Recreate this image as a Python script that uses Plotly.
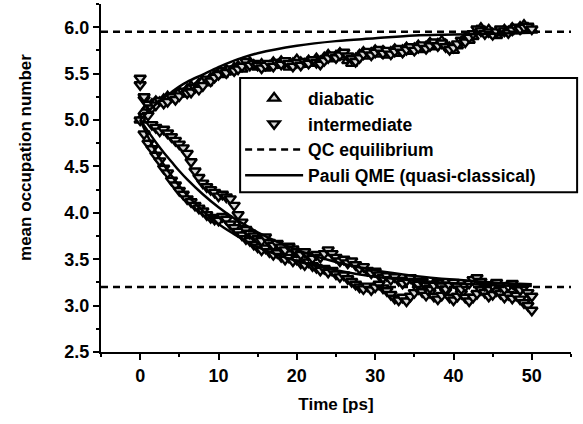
import plotly.graph_objects as go

# ---------------- data ----------------
time_ps = [i * 0.5 for i in range(101)]  # 0 ... 50 ps

diabatic_upper = [
    5.00, 5.09, 5.14, 5.17, 5.20, 5.19, 5.22, 5.25, 5.23, 5.27,
    5.30, 5.28, 5.33, 5.36, 5.34, 5.39, 5.42, 5.40, 5.45, 5.48,
    5.51, 5.49, 5.54, 5.52, 5.56, 5.58, 5.55, 5.60, 5.62, 5.59,
    5.57, 5.60, 5.56, 5.58, 5.62, 5.59, 5.63, 5.60, 5.57, 5.61,
    5.65, 5.62, 5.60, 5.64, 5.61, 5.66, 5.63, 5.67, 5.70, 5.66,
    5.69, 5.72, 5.68, 5.64, 5.61, 5.66, 5.70, 5.73, 5.69, 5.72,
    5.75, 5.71, 5.74, 5.70, 5.73, 5.76, 5.72, 5.75, 5.78, 5.74,
    5.77, 5.80, 5.76, 5.79, 5.83, 5.79, 5.82, 5.85, 5.81, 5.78,
    5.75, 5.80, 5.84, 5.88, 5.86, 5.90, 5.96, 5.99, 5.95, 5.97,
    5.93, 5.91, 5.94, 5.97, 5.95, 5.99, 5.96, 6.00, 6.02, 5.99,
    5.97,
]

intermediate_upper = [
    5.38, 5.22, 5.17, 5.13, 5.16, 5.21, 5.18, 5.20, 5.25, 5.22,
    5.26, 5.31, 5.29, 5.30, 5.35, 5.33, 5.37, 5.44, 5.42, 5.46,
    5.49, 5.53, 5.51, 5.55, 5.53, 5.55, 5.58, 5.63, 5.59, 5.61,
    5.59, 5.56, 5.59, 5.61, 5.58, 5.62, 5.60, 5.64, 5.61, 5.58,
    5.62, 5.59, 5.63, 5.61, 5.65, 5.62, 5.60, 5.64, 5.67, 5.70,
    5.67, 5.70, 5.73, 5.69, 5.66, 5.63, 5.67, 5.71, 5.74, 5.70,
    5.73, 5.76, 5.72, 5.75, 5.71, 5.74, 5.77, 5.73, 5.76, 5.79,
    5.75, 5.78, 5.81, 5.77, 5.80, 5.84, 5.80, 5.83, 5.79, 5.76,
    5.78, 5.82, 5.86, 5.84, 5.89, 5.93, 5.98, 5.96, 5.93, 5.95,
    5.92, 5.95, 5.98, 5.96, 5.94, 5.97, 6.00, 5.98, 6.00, 6.01,
    5.98,
]

intermediate_lower_a = [
    5.00, 4.85, 4.75, 4.69, 4.62, 4.56, 4.48, 4.43, 4.35, 4.30,
    4.24, 4.20, 4.15, 4.12, 4.08, 4.05, 4.02, 3.98, 3.95, 3.93,
    3.92, 3.96, 3.93, 3.88, 3.84, 3.80, 3.76, 3.72, 3.70, 3.66,
    3.63, 3.60, 3.62, 3.58, 3.55, 3.57, 3.53, 3.50, 3.52, 3.48,
    3.50, 3.46, 3.44, 3.47, 3.43, 3.41, 3.38, 3.40, 3.36, 3.38,
    3.34, 3.31, 3.33, 3.29, 3.26, 3.23, 3.20, 3.18, 3.21, 3.17,
    3.20, 3.23, 3.19, 3.16, 3.12, 3.08, 3.06, 3.09, 3.05, 3.10,
    3.14, 3.18, 3.15, 3.11, 3.14, 3.10, 3.07, 3.11, 3.15, 3.09,
    3.06, 3.10, 3.13, 3.09, 3.05, 3.09, 3.13, 3.17, 3.14, 3.10,
    3.12, 3.16, 3.13, 3.09, 3.12, 3.08, 3.11, 3.07, 3.03, 3.00,
    2.95,
]

intermediate_lower_b = [
    5.45, 5.25, 5.05, 4.95, 4.92, 4.88, 4.90, 4.86, 4.82, 4.78,
    4.74, 4.70, 4.64, 4.55, 4.45, 4.38, 4.32, 4.28, 4.25, 4.22,
    4.18, 4.20, 4.17, 4.15, 4.08, 3.98, 3.90, 3.82, 3.78, 3.75,
    3.72, 3.70, 3.74, 3.68, 3.65, 3.67, 3.63, 3.60, 3.64, 3.61,
    3.58, 3.55, 3.58, 3.54, 3.51, 3.55, 3.52, 3.56, 3.60, 3.56,
    3.52, 3.48, 3.50, 3.46, 3.48, 3.44, 3.40, 3.42, 3.38, 3.35,
    3.37, 3.33, 3.30, 3.32, 3.28, 3.31, 3.27, 3.24, 3.27, 3.30,
    3.26, 3.23, 3.26, 3.22, 3.19, 3.22, 3.25, 3.21, 3.18, 3.22,
    3.25, 3.21, 3.18, 3.21, 3.24, 3.28, 3.30, 3.26, 3.22, 3.19,
    3.22, 3.25, 3.21, 3.18, 3.21, 3.24, 3.20, 3.17, 3.20, 3.14,
    3.10,
]

# Pauli QME (quasi-classical) curves
pauli_time = [0, 1, 2, 3, 4, 5, 6, 8, 10, 12, 13, 15, 20, 25, 30, 35, 40, 45, 50]
pauli_upper = [5.00, 5.09, 5.17, 5.24, 5.30, 5.36, 5.41, 5.49, 5.57, 5.64, 5.67,
               5.72, 5.80, 5.85, 5.88, 5.91, 5.92, 5.93, 5.94]
pauli_lower_a = [5.00, 4.82, 4.66, 4.52, 4.40, 4.29, 4.19, 4.02, 3.88, 3.77, 3.72,
                 3.63, 3.48, 3.38, 3.31, 3.27, 3.24, 3.22, 3.21]
pauli_lower_b = [5.00, 4.88, 4.76, 4.65, 4.55, 4.45, 4.36, 4.20, 4.06, 3.94, 3.89,
                 3.79, 3.60, 3.47, 3.38, 3.32, 3.28, 3.25, 3.23]

qc_equilibrium = [5.95, 3.20]

x_range = [-5, 55]
y_range = [2.5, 6.25]

# ---------------- figure ----------------
FONT = "Liberation Sans, Arial, Helvetica, sans-serif"
marker_fill = "#d6d6d6"
marker_style = dict(size=10, color=marker_fill, line=dict(color="black", width=2.4))

fig = go.Figure()

fig.add_trace(go.Scatter(
    x=time_ps, y=diabatic_upper, mode="markers", name="diabatic",
    marker=dict(symbol="triangle-up", **marker_style),
))
for i, yy in enumerate([intermediate_upper, intermediate_lower_a, intermediate_lower_b]):
    fig.add_trace(go.Scatter(
        x=time_ps, y=yy, mode="markers", name="intermediate",
        showlegend=(i == 0),
        marker=dict(symbol="triangle-down", **marker_style),
    ))

for i, q in enumerate(qc_equilibrium):
    fig.add_trace(go.Scatter(
        x=x_range, y=[q, q], mode="lines", name="QC equilibrium",
        showlegend=(i == 0),
        line=dict(color="black", width=2.5, dash="7px,5px"),
    ))

for i, yy in enumerate([pauli_upper, pauli_lower_a, pauli_lower_b]):
    fig.add_trace(go.Scatter(
        x=pauli_time, y=yy, mode="lines", name="Pauli QME (quasi-classical)",
        showlegend=(i == 0),
        line=dict(color="black", width=2.5, shape="spline"),
    ))

axis_common = dict(
    showline=True, linecolor="black", linewidth=2,
    ticks="outside", ticklen=6, tickwidth=2, tickcolor="black",
    showgrid=False, zeroline=False, mirror=False,
    tickfont=dict(family=FONT, size=18, color="black", weight="bold"),
)

fig.update_layout(
    width=583, height=424,
    margin=dict(l=101, r=12, t=4, b=72),
    paper_bgcolor="white", plot_bgcolor="white",
    font=dict(family=FONT, color="black"),
    xaxis=dict(
        range=x_range, tick0=0, dtick=10,
        minor=dict(ticks="outside", ticklen=3, tickwidth=2, tickcolor="black", dtick=5, tick0=0),
        title=dict(text="Time [ps]", font=dict(family=FONT, size=17, color="black", weight="bold"),
                   standoff=14),
        **axis_common,
    ),
    yaxis=dict(
        range=y_range, tick0=2.5, dtick=0.5, tickformat=".1f",
        minor=dict(ticks="outside", ticklen=3, tickwidth=2, tickcolor="black", dtick=0.25, tick0=2.5),
        **axis_common,
    ),
    legend=dict(
        x=0.296, y=0.781, xanchor="left", yanchor="top",
        bgcolor="rgba(0,0,0,0)", borderwidth=0,
        font=dict(family=FONT, size=17.5, color="black", weight="bold"),
        itemwidth=58, tracegroupgap=0,
    ),
    shapes=[dict(
        type="rect", xref="paper", yref="paper", layer="above",
        x0=0.296, x1=1.013, y0=0.459, y1=0.787,
        line=dict(color="black", width=2), fillcolor="white",
    )],
    annotations=[dict(
        text="mean occupation number", textangle=-90,
        xref="paper", yref="paper", x=-0.162, y=0.56,
        xanchor="center", yanchor="middle", showarrow=False,
        font=dict(family=FONT, size=17, color="black", weight="bold"),
    )],
    showlegend=True,
)

fig.write_html("out.html")
